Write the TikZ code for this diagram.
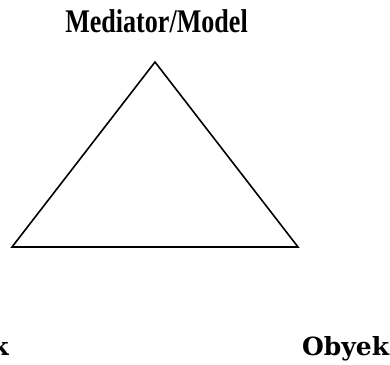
\documentclass[tikz,border=0pt]{standalone}
\usepackage{fontspec}
\setmainfont{Liberation Serif}
\newfontfamily\widebold{DejaVu Serif}
\begin{document}
\begin{tikzpicture}[x=1pt,y=-1pt,
  toplabel/.style={inner sep=0pt, anchor=base, font=\fontsize{33}{33}\selectfont\bfseries, xscale=0.79},
  cornerlabel/.style={inner sep=0pt, font=\widebold\fontsize{25}{25}\selectfont\bfseries},
  edge/.style={draw=black, line width=1.6pt, line join=miter}]
\useasboundingbox (0,0) rectangle (390,364);
\clip (0,0) rectangle (390,364);
\fill[white] (0,0) rectangle (390,364);
\node[toplabel] (med) at (156.5,32) {Mediator/Model};
\coordinate (A) at (155,62);
\coordinate (B) at (12,247);
\coordinate (C) at (298,247);
\draw[edge] (A) -- (B) -- (C) -- cycle;
\node[cornerlabel, anchor=base east] (subj) at (9,355) {Subjek};
\node[cornerlabel, anchor=base west] (obj) at (302,355) {Obyek};
\end{tikzpicture}
\end{document}
